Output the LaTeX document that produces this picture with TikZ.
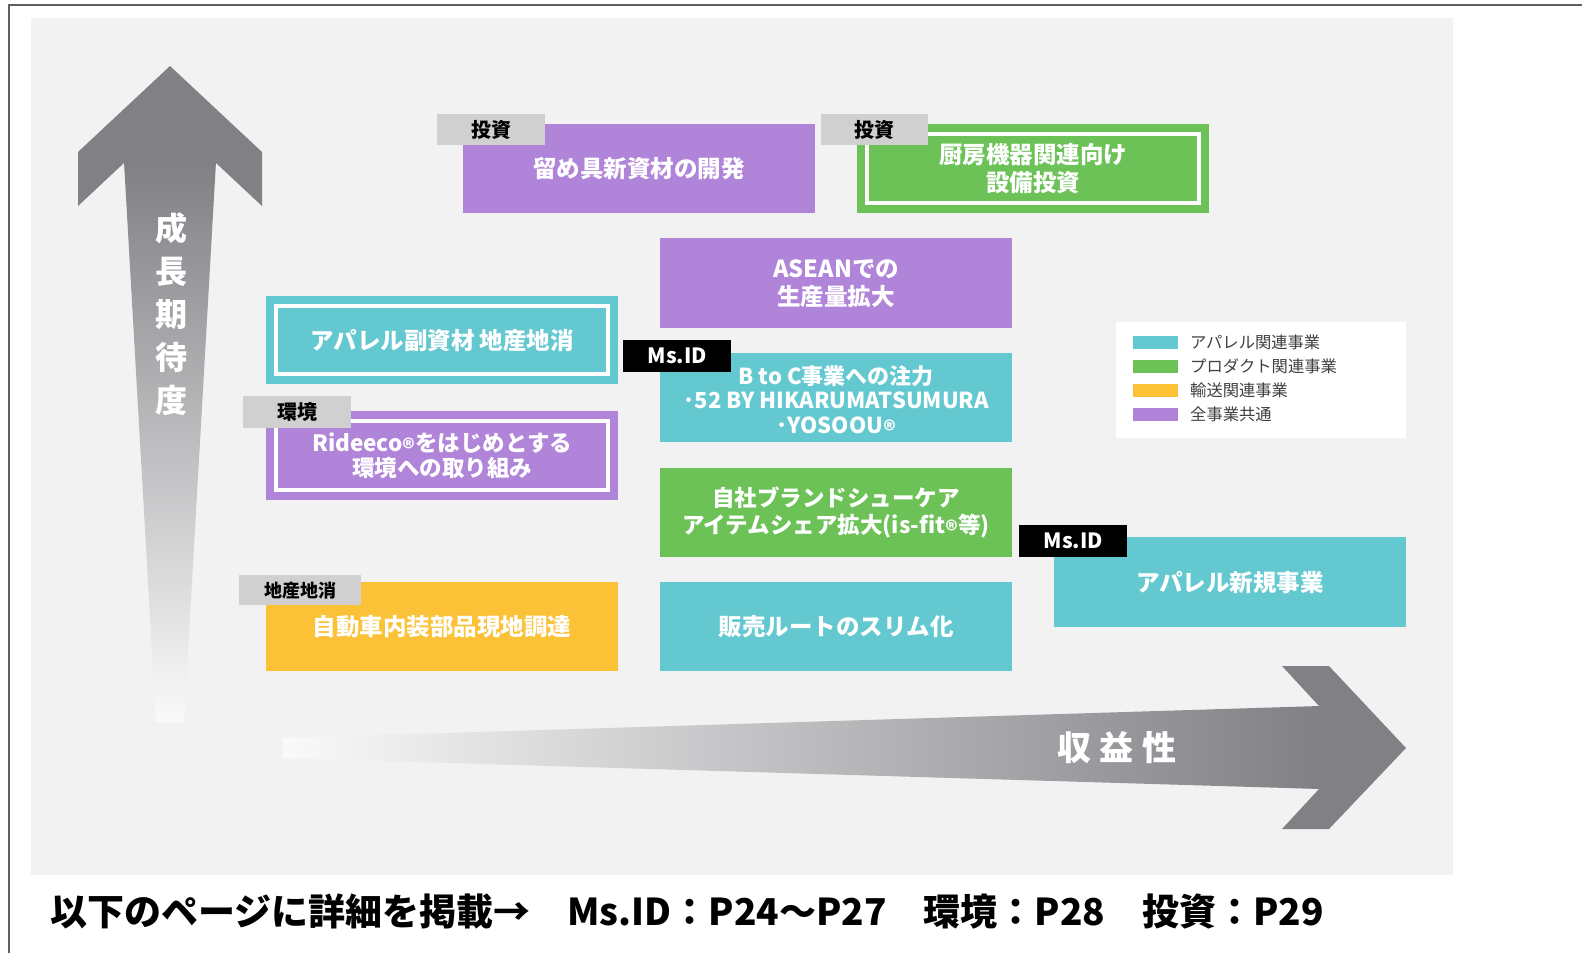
\documentclass[tikz,border=0pt]{standalone}
\usepackage{fontspec}
\setmainfont{Noto Sans CJK JP}
\definecolor{bgc}{HTML}{F2F2F2}
\definecolor{arrowgray}{HTML}{808085}
\definecolor{cpurple}{HTML}{B084D8}
\definecolor{ccyan}{HTML}{63C8D0}
\definecolor{cgreen}{HTML}{6CC257}
\definecolor{cyellow}{HTML}{FBC137}
\definecolor{taggray}{HTML}{D0D0D0}
\definecolor{legtext}{HTML}{404040}
\definecolor{framec}{HTML}{606060}
\newcommand\regm{\smash{\raisebox{-6pt}{\fontsize{24}{24}\selectfont ®}}}
\begin{document}
\begin{tikzpicture}[x=1pt,y=-1pt]
\tikzset{
  bizbox/.style={anchor=north west, minimum width=352pt, minimum height=89pt, inner sep=0pt,
    align=center, text=white, font=\fontsize{23.5}{28}\selectfont\bfseries},
  innerframe/.style={draw=white, line width=4pt},
  tagbox/.style={anchor=north west, minimum width=108pt, minimum height=31pt, inner sep=0pt,
    fill=taggray, text=black, font=\fontsize{20}{20}\selectfont\bfseries},
  msidtag/.style={tagbox, fill=black, text=white, minimum height=32pt, font=\fontsize{21}{21}\selectfont\bfseries},
  swatch/.style={anchor=west, minimum width=45pt, minimum height=13pt, inner sep=0pt},
  legitem/.style={anchor=west, inner sep=0pt, text=legtext, font=\fontsize{16.3}{16.3}\selectfont},
}
\useasboundingbox (0,0) rectangle (1582,953);
\fill[white] (0,0) rectangle (1582,953);
% frame
\coordinate (fTL) at (9,5);
\coordinate (fTR) at (1582,5);
\coordinate (fBL) at (9,953);
\draw[framec, line width=2pt] (fBL) -- (fTL) -- (fTR);
% background panel
\fill[bgc] (31,18) rectangle (1453,875);

% up arrow
\fill[arrowgray] (170,66) -- (262,152) -- (262,206) -- (216,163) -- (124,163) -- (78,206) -- (78,152) -- cycle;
\shade[top color=arrowgray, bottom color=white!60!bgc] (124,162) -- (216,162) -- (184,722) -- (156,722) -- cycle;
\node[text=white, align=center, inner sep=0pt, font=\fontsize{32}{43}\selectfont\bfseries] (ylab) at (171,314) {成\\長\\期\\待\\度};

% right arrow
\shade[left color=white!60!bgc, right color=arrowgray] (283,738) -- (1320,706) -- (1320,789) -- (283,758) -- cycle;
\fill[arrowgray] (1282,666) -- (1329,666) -- (1406,748) -- (1329,829) -- (1282,829) -- (1319,789) -- (1319,706) -- cycle;
\node[text=white, inner sep=0pt, font=\fontsize{34}{34}\selectfont\bfseries] (xlab) at (1117,748) {収\hspace{9pt}益\hspace{9pt}性};

% boxes
\node[bizbox, fill=cpurple] (b1) at (463,124) {留め具新資材の開発};
\node[bizbox, fill=cgreen] (b2) at (857,124) {厨房機器関連向け\\設備投資};
\draw[innerframe] ([shift={(10,10)}]b2.north west) rectangle ([shift={(-10,-10)}]b2.south east);
\node[bizbox, fill=cpurple, minimum height=90pt] (b3) at (660,238) {ASEANでの\\生産量拡大};
\node[bizbox, fill=ccyan, minimum height=88pt] (b4) at (266,296) {アパレル副資材 地産地消};
\draw[innerframe] ([shift={(10,10)}]b4.north west) rectangle ([shift={(-10,-10)}]b4.south east);
\node[bizbox, fill=ccyan] (b5) at (660,353) {};
\node[text=white, align=center, inner sep=0pt, font=\fontsize{22}{24.5}\selectfont\bfseries] (b5t) at ([shift={(0,2)}]b5.center) {B to C事業への注力\\･52 BY HIKARUMATSUMURA\\･YOSOOU\regm};
\node[bizbox, fill=cpurple, font=\fontsize{22.5}{25.5}\selectfont\bfseries] (b6) at (266,411) {Rideeco\regm をはじめとする\\環境への取り組み};
\draw[innerframe] ([shift={(10,10)}]b6.north west) rectangle ([shift={(-10,-10)}]b6.south east);
\node[bizbox, fill=cgreen, font=\fontsize{22.5}{27}\selectfont\bfseries] (b7) at (660,468) {自社ブランドシューケア\\アイテムシェア拡大(is-fit\regm 等)};
\node[bizbox, fill=ccyan, minimum height=90pt] (b8) at (1054,537) {アパレル新規事業};
\node[bizbox, fill=cyellow] (b9) at (266,582) {自動車内装部品現地調達};
\node[bizbox, fill=ccyan] (b10) at (660,582) {販売ルートのスリム化};

% tags
\node[tagbox] (t1) at (437,114) {投資};
\node[tagbox, minimum width=107pt] (t2) at (821,114) {投資};
\node[msidtag] (t5) at (623,340) {Ms.ID};
\node[tagbox, minimum height=32pt] (t6) at (243,396) {環境};
\node[msidtag] (t8) at (1019,525) {Ms.ID};
\node[tagbox, minimum width=122pt, minimum height=30pt, font=\fontsize{18}{18}\selectfont\bfseries] (t9) at (239,575) {地産地消};

% legend
\node[anchor=north west, fill=white, minimum width=290pt, minimum height=116pt, inner sep=0pt] (leg) at (1116,322) {};
\node[swatch, fill=ccyan] (s1) at (1133,342) {};
\node[swatch, fill=cgreen] (s2) at (1133,366) {};
\node[swatch, fill=cyellow] (s3) at (1133,390) {};
\node[swatch, fill=cpurple] (s4) at (1133,414) {};
\node[legitem] (l1) at (1190,342) {アパレル関連事業};
\node[legitem] (l2) at (1190,366) {プロダクト関連事業};
\node[legitem] (l3) at (1190,390) {輸送関連事業};
\node[legitem] (l4) at (1190,414) {全事業共通};

% footer
\node[anchor=west, inner sep=0pt, text=black, font=\fontsize{37}{37}\selectfont\bfseries] (foot) at (50,911)
  {以下のページに詳細を掲載→　Ms.ID：P24～P27　環境：P28　投資：P29};
\end{tikzpicture}
\end{document}
